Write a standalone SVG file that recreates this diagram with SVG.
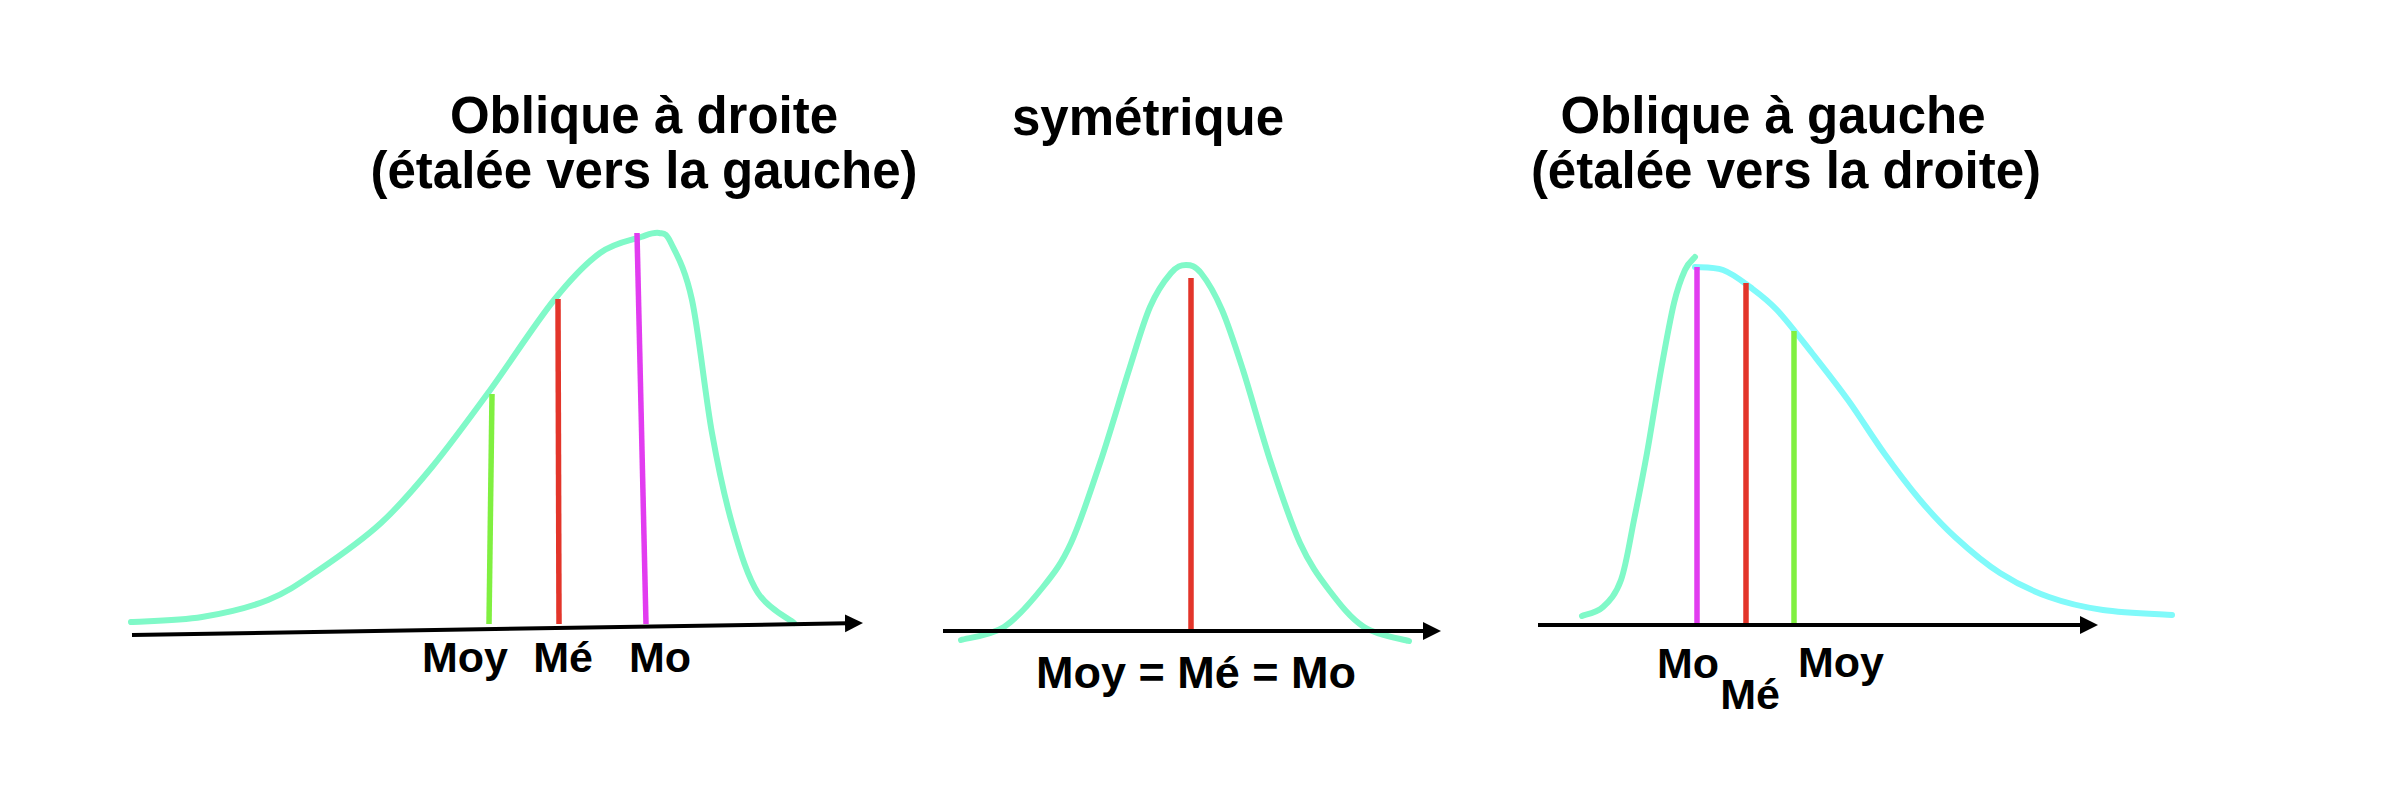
<svg xmlns="http://www.w3.org/2000/svg" width="2394" height="788" viewBox="0 0 2394 788">
<style>
  text { font-family: "Liberation Sans", Arial, sans-serif; font-weight: bold; fill: #000; text-anchor: middle; }
  .title { font-size: 51px; }
  .lbl { font-size: 43px; }
  .curve { fill: none; stroke: #80f9c8; stroke-width: 6; stroke-linecap: round; stroke-linejoin: round; }
  .curve-cyan { fill: none; stroke: #80fafa; stroke-width: 6; stroke-linecap: round; stroke-linejoin: round; }
  .axis { fill: none; stroke: #000; stroke-width: 4; marker-end: url(#arrow); }
  .moy { stroke: #80f040; stroke-width: 5.5; }
  .med { stroke: #e3352a; stroke-width: 5.5; }
  .mode { stroke: #e23cf0; stroke-width: 5.5; }
</style>
<defs>
  <marker id="arrow" markerUnits="userSpaceOnUse" markerWidth="20" markerHeight="20" refX="2" refY="9" orient="auto">
    <path d="M0,0 L18,9 L0,18 z" fill="#000"/>
  </marker>
</defs>
<rect width="2394" height="788" fill="#fff"/>

<g id="chart-right-skew">
  <text class="title" x="644" y="133">Oblique à droite</text>
  <text class="title" x="644" y="188">(étalée vers la gauche)</text>
  <path class="curve" d="M131,622 C142.8,621.2 179.2,620.7 202,617 C224.8,613.3 248.5,607.8 268,600 C287.5,592.2 300.2,582.8 319,570 C337.8,557.2 362.2,540.2 381,523 C399.8,505.8 414.2,488.7 432,467 C449.8,445.3 467.7,420.8 488,393 C508.3,365.2 535.3,323.3 554,300 C572.7,276.7 585.5,263.5 600,253 C614.5,242.5 631.2,240.3 641,237 C650.8,233.7 654,232 659,233 C664,234 665.5,231.8 671,243 C676.5,254.2 685.2,268.3 692,300 C698.8,331.7 705.2,395.2 712,433 C718.8,470.8 725.3,500.3 733,527 C740.7,553.7 747.8,577 758,593 C768.2,609 788,618 794,623"/>
  <line class="moy" x1="492" y1="394" x2="489" y2="624"/>
  <line class="med" x1="558" y1="299" x2="559" y2="624"/>
  <line class="mode" x1="637" y1="233" x2="646" y2="624"/>
  <text class="lbl" x="465" y="672">Moy</text>
  <text class="lbl" x="563" y="672">Mé</text>
  <text class="lbl" x="660" y="672">Mo</text>
</g>

<g id="chart-symmetric">
  <text class="title" x="1148" y="135">symétrique</text>
  <path class="curve" d="M961,640 C968.2,637.8 990.3,635.8 1004,627 C1017.7,618.2 1031.8,601 1043,587 C1054.2,573 1061.5,563.7 1071,543 C1080.5,522.3 1090.3,491.8 1100,463 C1109.7,434.2 1120.7,396 1129,370 C1137.3,344 1143,323.2 1150,307 C1157,290.8 1165,280 1171,273 C1177,266 1181,265 1186,265 C1191,265 1195,265.5 1201,273 C1207,280.5 1215,293.8 1222,310 C1229,326.2 1234.8,344.5 1243,370 C1251.2,395.5 1261.5,434.2 1271,463 C1280.5,491.8 1290.3,521.8 1300,543 C1309.7,564.2 1318.3,576 1329,590 C1339.7,604 1350.7,618.5 1364,627 C1377.3,635.5 1401.5,638.7 1409,641"/>
  <line class="med" x1="1191" y1="278" x2="1191" y2="630"/>
  <text class="lbl" x="1196" y="688" style="font-size:45px">Moy = Mé = Mo</text>
</g>

<g id="chart-left-skew">
  <text class="title" x="1773" y="133">Oblique à gauche</text>
  <text class="title" x="1786" y="188">(étalée vers la droite)</text>
  <path class="curve" d="M1582,616 C1585.5,614.5 1596.5,613 1603,607 C1609.5,601 1615.8,594.5 1621,580 C1626.2,565.5 1629.7,541.2 1634,520 C1638.3,498.8 1642.5,478 1647,453 C1651.5,428 1656.5,395 1661,370 C1665.5,345 1670,319.7 1674,303 C1678,286.3 1681.5,277.7 1685,270 C1688.5,262.3 1693.3,259.2 1695,257"/>
  <path class="curve-cyan" d="M1695,267 C1699.7,267.5 1713.8,266.7 1723,270 C1732.2,273.3 1741,280.3 1750,287 C1759,293.7 1766.7,299 1777,310 C1787.3,321 1800.2,338 1812,353 C1823.8,368 1836,383.3 1848,400 C1860,416.7 1872,436.3 1884,453 C1896,469.7 1908.2,486 1920,500 C1931.8,514 1941.7,524.8 1955,537 C1968.3,549.2 1984.3,563 2000,573 C2015.7,583 2031.8,590.8 2049,597 C2066.2,603.2 2082.5,607 2103,610 C2123.5,613 2160.5,614.2 2172,615"/>
  <line class="mode" x1="1697" y1="267" x2="1697" y2="624"/>
  <line class="med" x1="1746" y1="283" x2="1746" y2="624"/>
  <line class="moy" x1="1794" y1="331" x2="1794" y2="624"/>
  <text class="lbl" x="1688" y="678">Mo</text>
  <text class="lbl" x="1750" y="709">Mé</text>
  <text class="lbl" x="1841" y="677">Moy</text>
</g>

<g id="connectors">
  <line class="axis" x1="132" y1="635" x2="847" y2="623.3"/>
  <line class="axis" x1="943" y1="631" x2="1425" y2="631"/>
  <line class="axis" x1="1538" y1="625" x2="2082" y2="625"/>
</g>
</svg>
